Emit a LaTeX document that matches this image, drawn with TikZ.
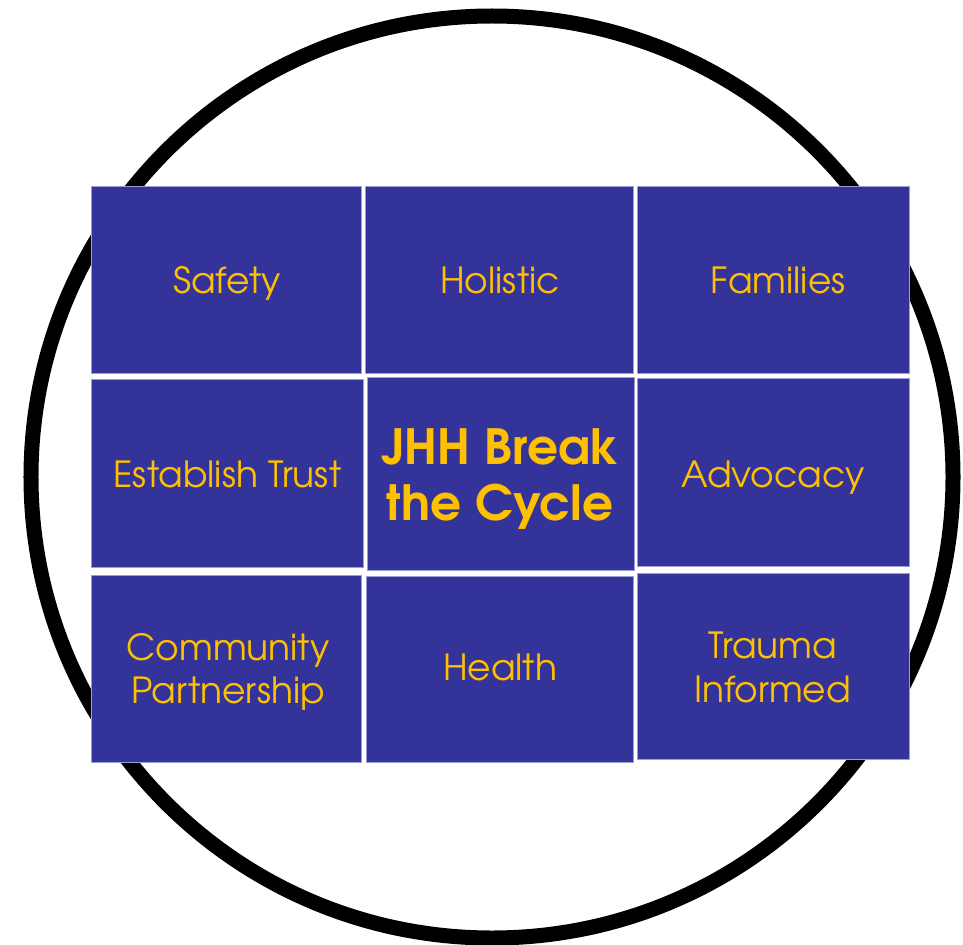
\documentclass[tikz,border=0pt]{standalone}
\usepackage{fontspec}
\setmainfont{TeX Gyre Adventor}
\definecolor{cellblue}{HTML}{343399}
\definecolor{celledge}{HTML}{9C9CD8}
\definecolor{gold}{HTML}{FFC000}
\begin{document}
\begin{tikzpicture}[x=1bp,y=-1bp,
  cell/.style={rectangle, fill=cellblue, draw=celledge, line width=1bp, inner sep=0pt, outer sep=0pt},
  lbl/.style={anchor=base, text=gold, inner sep=0pt, font=\fontsize{36bp}{44bp}\selectfont},
  big/.style={anchor=base, text=gold, inner sep=0pt, font=\fontsize{48.5bp}{56bp}\selectfont\bfseries}]
\useasboundingbox (0,0) rectangle (963,945);
% ring
\node[circle, draw=black, line width=15bp, minimum size=922bp, inner sep=0pt] (ring) at (492,477) {};
% cells: row 1
\node[cell, minimum width=269bp, minimum height=187bp] (c11) at (226.5,279.5) {};
\node[cell, minimum width=268bp, minimum height=187bp] (c12) at (499,279.5) {};
\node[cell, minimum width=272bp, minimum height=187bp] (c13) at (773,279.5) {};
% row 2
\node[cell, minimum width=271bp, minimum height=188bp] (c21) at (227.5,473) {};
\node[cell, minimum width=267bp, minimum height=193bp] (c22) at (500.5,473.5) {};
\node[cell, minimum width=272bp, minimum height=188bp] (c23) at (773,472) {};
% row 3
\node[cell, minimum width=269bp, minimum height=187bp] (c31) at (226.5,668.5) {};
\node[cell, minimum width=267bp, minimum height=186bp] (c32) at (499.5,669) {};
\node[cell, minimum width=272bp, minimum height=186bp] (c33) at (773,666) {};
% labels
\node[lbl] (t11) at (227,293) {Safety};
\node[lbl] (t12) at (500,293) {Holistic};
\node[lbl] (t13) at (778,293) {Families};
\node[lbl] (t21) at (227.5,487) {Establish Trust};
\node[big] (t22a) at (500,464) {JHH Break};
\node[big] (t22b) at (500,520) {the Cycle};
\node[lbl] (t23) at (773,487) {Advocacy};
\node[lbl] (t31a) at (228,660) {Community};
\node[lbl] (t31b) at (228,703) {Partnership};
\node[lbl] (t32) at (500,680) {Health};
\node[lbl] (t33a) at (772.5,658) {Trauma};
\node[lbl] (t33b) at (772.5,702) {Informed};
\end{tikzpicture}
\end{document}
